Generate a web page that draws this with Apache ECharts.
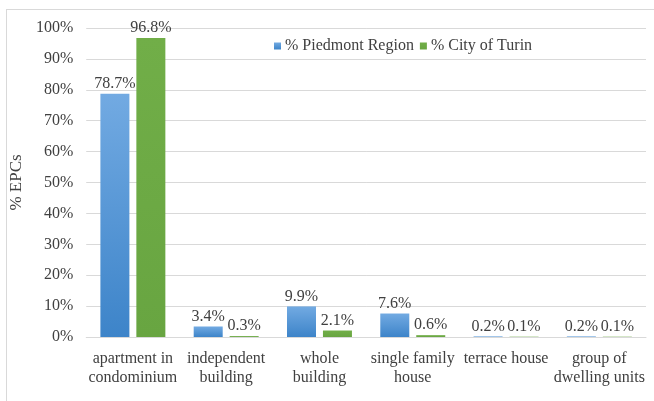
<!DOCTYPE html>
<html><head><meta charset="utf-8">
<script src="https://cdn.jsdelivr.net/npm/echarts@6/dist/echarts.min.js"></script>
<style>html,body{margin:0;padding:0;background:#fff}#c{width:654px;height:401px}</style>
</head><body><div id="c"></div>
<script>
const categories = ["apartment in\ncondominium","independent\nbuilding","whole\nbuilding","single family\nhouse","terrace house","group of\ndwelling units"];
const piedmont = [78.7, 3.4, 9.9, 7.6, 0.2, 0.2];
const turin = [96.8, 0.3, 2.1, 0.6, 0.1, 0.1];
const seriesNames = ["% Piedmont Region", "% City of Turin"];
const yTicks = [0,10,20,30,40,50,60,70,80,90,100];

const font = "'Liberation Serif', 'Times New Roman', serif";
const chart = echarts.init(document.getElementById('c'), null, {renderer:'canvas'});
const blue = new echarts.graphic.LinearGradient(0,0,0,1,[{offset:0,color:'#72aae2'},{offset:1,color:'#3d84c9'}]);
const green = new echarts.graphic.LinearGradient(0,0,0,1,[{offset:0,color:'#71ae48'},{offset:1,color:'#68a541'}]);
const lbl = {show:true, position:'top', distance:2, fontFamily:font, fontSize:16, color:'#404040', formatter: p => p.value.toFixed(1)+'%'};
chart.setOption({
  animation:false,
  graphic:[
    {type:'line', shape:{x1:6, y1:9.5, x2:654, y2:9.5}, style:{stroke:'#d9d9d9', lineWidth:1}},
    {type:'line', shape:{x1:6.5, y1:9, x2:6.5, y2:401}, style:{stroke:'#d9d9d9', lineWidth:1}}
  ],
  legend:{left:269, top:33, itemWidth:7, itemHeight:7, itemGap:6, icon:'rect',
    textStyle:{fontFamily:font, fontSize:16, color:'#404040', padding:[0,0,0,-1]}, data:seriesNames},
  grid:{left:84, right:8, top:28, bottom:64},
  xAxis:{type:'category', data:categories,
    axisLine:{lineStyle:{color:'#d9d9d9'}}, axisTick:{show:false},
    axisLabel:{fontFamily:font, fontSize:16, color:'#404040', lineHeight:19, margin:12, interval:0}},
  yAxis:{type:'value', min:0, max:100, interval:10,
    name:'% EPCs', nameLocation:'middle', nameGap:54, nameRotate:90,
    nameTextStyle:{fontFamily:font, fontSize:17, color:'#404040'},
    axisLabel:{fontFamily:font, fontSize:16, color:'#404040', margin:13, formatter: v => yTicks.includes(v) ? v+'%' : ''},
    splitLine:{lineStyle:{color:'#d9d9d9'}}, axisLine:{show:false}, axisTick:{show:false}},
  series:[
    {name:seriesNames[0], type:'bar', data:piedmont, itemStyle:{color:blue}, barWidth:29, barGap:'24%', label:lbl},
    {name:seriesNames[1], type:'bar', data:turin, itemStyle:{color:green}, barWidth:29, label:lbl}
  ]
});
</script></body></html>
